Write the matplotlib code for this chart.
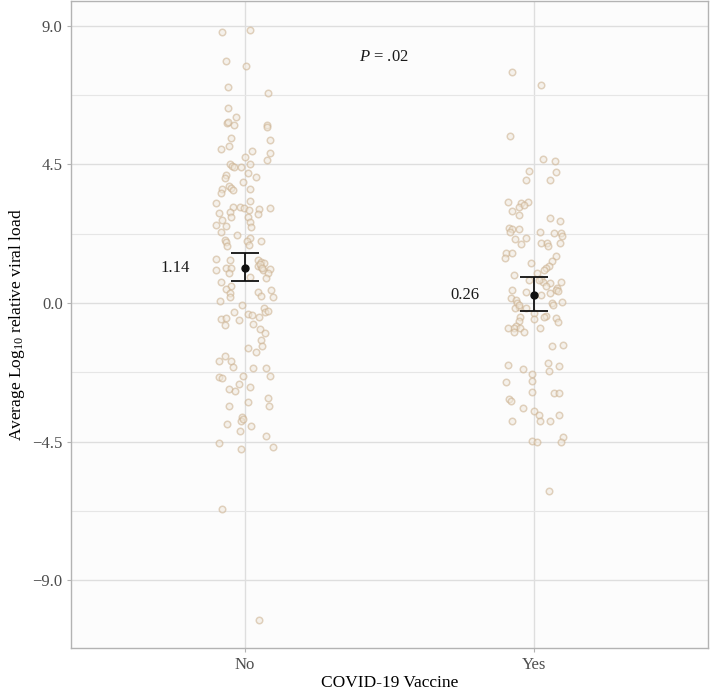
import matplotlib.pyplot as plt
import numpy as np

plt.rcParams['font.family'] = ['Liberation Serif', 'DejaVu Serif']
plt.rcParams['mathtext.fontset'] = 'custom'
plt.rcParams['mathtext.rm'] = 'Liberation Serif'
plt.rcParams['mathtext.it'] = 'Liberation Serif:italic'

groups = ["No", "Yes"]

# Log10 relative viral load per subject
no_vals = [8.81, 8.86, 7.86, 7.71, 7.02, 6.83, 6.33, 6.05, 5.84, 5.87, 5.78, 5.77, 5.73,
           5.37, 5.30, 5.10, 4.99, 4.94, 4.86, 4.75, 4.64, 4.52, 4.46, 4.43, 4.42, 4.52,
           4.16, 4.05, 4.21, 4.10, 3.94, 3.80, 3.73, 3.67, 3.69, 3.56, 3.70, 3.32, 3.26,
           3.13, 3.13, 3.08, 3.02, 3.05, 3.10, 2.91, 2.95, 2.78, 2.88, 2.78, 2.70, 2.53,
           2.51, 2.64, 2.48, 2.30, 2.21, 2.10, 2.02, 2.02, 2.05, 1.99, 1.85, 1.88, 1.42,
           1.40, 1.40, 1.34, 1.20, 1.18, 1.29, 1.07, 1.27, 1.14, 1.13, 1.07, 1.13, 0.96,
           1.09, 0.96, 0.83, 0.80, 0.69, 0.55, 0.45, 0.42, 0.37, 0.32, 0.20, 0.23, 0.20,
           0.07, -0.06, -0.15, -0.30, -0.25, -0.30, -0.52, -0.48, -0.55, -0.36, -0.39,
           -0.46, -0.71, -0.68, -0.84, -0.98, -1.20, -1.40, -1.45, -1.60, -1.71, -1.87,
           -1.87, -2.07, -2.10, -2.10, -2.36, -2.39, -2.45, -2.37, -2.63, -2.72, -2.79,
           -2.85, -3.10, -3.22, -3.34, -3.34, -3.71, -3.82, -3.78, -3.94, -3.99, -4.16,
           -4.32, -4.53, -4.74, -4.67, -6.68, -10.30]
no_jit = [-0.078, 0.020, -0.066, 0.003, -0.058, 0.080, -0.058, -0.029, -0.061, -0.058,
          -0.038, 0.077, 0.077, -0.049, 0.089, -0.054, -0.082, 0.024, 0.089, 0.0, 0.077,
          -0.052, -0.044, -0.038, -0.013, 0.020, -0.063, -0.068, 0.011, 0.040, -0.006,
          -0.054, -0.046, -0.041, -0.079, -0.082, 0.017, 0.017, -0.100, -0.040, -0.017,
          -0.002, 0.015, 0.048, 0.086, -0.090, -0.052, -0.049, 0.046, 0.011, -0.077,
          -0.100, -0.066, 0.020, 0.023, -0.082, -0.027, 0.017, 0.009, 0.056, -0.068,
          -0.063, -0.061, 0.015, -0.098, -0.052, 0.047, 0.055, 0.046, 0.058, 0.067, 0.063,
          0.052, 0.059, -0.063, -0.098, -0.046, -0.054, 0.089, 0.080, 0.017, 0.075, -0.083,
          -0.046, -0.066, 0.092, 0.046, -0.052, -0.052, 0.058, 0.098, -0.086, -0.008,
          0.066, 0.071, 0.080, -0.038, -0.082, -0.063, -0.020, 0.011, 0.025, 0.048,
          -0.069, 0.029, 0.052, 0.069, 0.058, 0.061, 0.011, 0.040, -0.069, -0.090, -0.049,
          -0.042, 0.029, 0.072, -0.006, -0.089, -0.078, 0.089, -0.021, 0.020, -0.054,
          -0.033, 0.080, 0.011, -0.054, 0.084, -0.008, -0.013, -0.006, -0.061, 0.023,
          -0.017, 0.072, -0.090, -0.013, 0.098, -0.078, 0.048]

yes_vals = [7.51, 7.08, 5.44, 4.67, 4.62, 4.29, 4.25, 3.99, 3.99, 3.29, 3.26, 3.29, 3.11,
            3.18, 2.99, 2.86, 2.75, 2.67, 2.43, 2.39, 2.30, 2.39, 2.32, 2.28, 2.26, 2.18,
            2.07, 2.10, 1.92, 1.96, 1.96, 1.85, 1.94, 1.63, 1.63, 1.45, 1.53, 1.36, 1.31,
            1.20, 1.13, 1.07, 0.98, 0.91, 0.78, 0.69, 0.75, 0.75, 0.69, 0.64, 0.56, 0.42,
            0.37, 0.48, 0.42, 0.40, 0.26, 0.32, 0.17, 0.10, -0.01, -0.12, -0.15, -0.06,
            0.01, -0.06, 0.03, -0.17, -0.32, -0.41, -0.45, -0.45, -0.48, -0.52, -0.58,
            -0.63, -0.75, -0.80, -0.82, -0.80, -0.82, -0.95, -0.95, -1.39, -1.36, -2.01,
            -2.14, -1.94, -2.05, -2.21, -2.32, -2.52, -2.56, -2.90, -2.93, -2.93, -3.13,
            -3.17, -3.40, -3.51, -3.64, -3.82, -3.82, -3.82, -3.64, -4.36, -4.51, -4.47,
            -4.51, -6.10]
yes_jit = [-0.075, 0.023, -0.083, 0.029, 0.072, -0.017, 0.077, -0.029, 0.056, -0.090,
           -0.046, -0.021, -0.052, -0.034, -0.075, -0.054, 0.054, 0.089, -0.086, -0.078,
           -0.083, -0.054, 0.020, 0.069, 0.094, 0.096, -0.066, -0.029, -0.046, 0.025,
           0.046, 0.049, 0.089, -0.098, -0.078, -0.100, 0.077, 0.060, -0.011, 0.052, 0.042,
           0.034, 0.011, -0.071, 0.025, 0.031, 0.017, -0.017, 0.093, 0.055, 0.040, -0.077,
           -0.029, 0.080, 0.075, 0.084, 0.022, 0.055, -0.080, -0.063, -0.061, -0.054,
           -0.066, -0.052, 0.060, 0.066, 0.096, -0.029, -0.001, 0.040, 0.034, -0.048,
           0.075, 0.0, -0.054, 0.084, -0.063, -0.069, -0.090, -0.049, 0.020, -0.071,
           -0.034, 0.060, 0.098, -0.090, -0.038, 0.048, 0.085, 0.052, -0.009, -0.009,
           -0.096, -0.009, 0.067, 0.086, -0.086, -0.080, -0.038, -0.001, 0.017, -0.075,
           0.020, 0.056, 0.085, 0.098, 0.094, -0.006, 0.009, 0.052]

means = [1.14, 0.26]
ci_low = [0.71, -0.25]
ci_high = [1.64, 0.85]
mean_labels = ["1.14", "0.26"]
p_text = "$P$ = .02"

fig = plt.figure(figsize=(7.1, 6.94), dpi=100)
ax = fig.add_axes([0.1, 0.066, 0.897, 0.9326])
ax.set_facecolor('#fcfcfc')

pos = [1, 2]
for p, vals, jit in zip(pos, [no_vals, yes_vals], [no_jit, yes_jit]):
    ax.scatter(p + np.array(jit), vals, s=22, facecolor='#f1e9dd', edgecolor='#cbb08e',
               linewidth=1.1, alpha=0.55, zorder=3)

for p, m, lo, hi, lab in zip(pos, means, ci_low, ci_high, mean_labels):
    ax.errorbar([p], [m], yerr=[[m - lo], [hi - m]], fmt='o', color='#111111', ms=5,
                elinewidth=1.3, capsize=10, capthick=1.3, zorder=5)
    ax.text(p - 0.24, m, lab, ha='center', va='center', fontsize=12, color='#1a1a1a')

ax.text(1.48, 8.0, p_text, ha='center', va='center', fontsize=12, color='#1a1a1a')

ax.set_xlim(0.4, 2.6)
ax.set_ylim(-11.21, 9.81)
ax.set_xticks(pos)
ax.set_xticklabels(groups)
ax.set_yticks([-9.0, -4.5, 0.0, 4.5, 9.0])
ax.set_yticklabels(['\u22129.0', '\u22124.5', '0.0', '4.5', '9.0'])
ax.set_yticks([-6.75, -2.25, 2.25, 6.75], minor=True)
ax.grid(True, which='major', color='#dedede', linewidth=1.0, zorder=0)
ax.grid(True, which='minor', axis='y', color='#e6e6e6', linewidth=0.8, zorder=0)
ax.set_axisbelow(True)
ax.tick_params(axis='both', which='major', length=3, color='#b3b3b3', labelsize=12,
               labelcolor='#4d4d4d', pad=3)
ax.tick_params(axis='y', which='minor', length=0)
for sp in ax.spines.values():
    sp.set_color('#b3b3b3')
    sp.set_linewidth(1.0)

ax.set_xlabel("COVID-19 Vaccine", fontsize=12.5, labelpad=2)
ax.set_ylabel("Average Log$_{10}$ relative viral load", fontsize=12.5, labelpad=4)

fig.savefig("out.png", dpi=100)
